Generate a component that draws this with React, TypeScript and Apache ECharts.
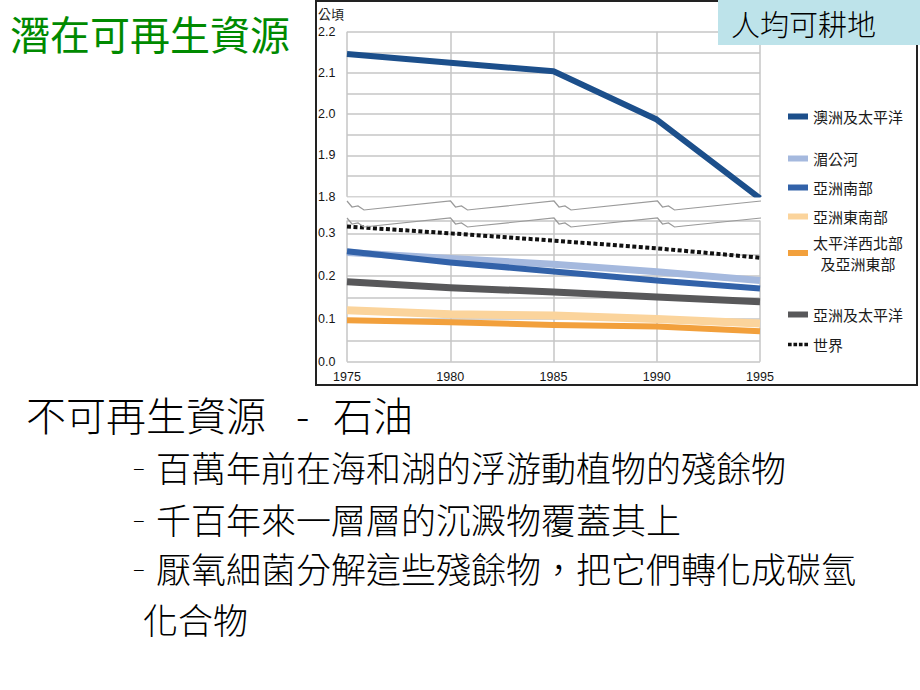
import React, { useEffect, useRef } from 'react';
import * as echarts from 'echarts';

// ---- data ----
const years = [1975, 1980, 1985, 1990, 1995];
const seriesNames = ['澳洲及太平洋', '湄公河', '亞洲南部', '亞洲東南部', '太平洋西北部及亞洲東部', '亞洲及太平洋', '世界'];
const australiaPacific = [2.146, 2.125, 2.104, 1.987, 1.796];
const mekong = [0.255, 0.241, 0.228, 0.21, 0.19];
const southAsia = [0.258, 0.232, 0.211, 0.19, 0.171];
const southeastAsia = [0.12, 0.111, 0.108, 0.1, 0.089];
const nwPacificEastAsia = [0.097, 0.092, 0.086, 0.082, 0.071];
const asiaPacific = [0.187, 0.173, 0.163, 0.151, 0.14];
const world = [0.316, 0.3, 0.283, 0.265, 0.243];
const unitLabel = '公頃';
const chartTitle = '潛在可再生資源';
const boxLabel = '人均可耕地';
const bodyHeading = ['不可再生資源', '-', '石油'];
const bullets = ['百萬年前在海和湖的浮游動植物的殘餘物', '千百年來一層層的沉澱物覆蓋其上', '厭氧細菌分解這些殘餘物，把它們轉化成碳氫'];
const bulletContinuation = '化合物';

const seriesValues = [australiaPacific, mekong, southAsia, southeastAsia, nwPacificEastAsia, asiaPacific, world];
const seriesColors = ['#1c4f8b', '#a5b9de', '#3262a9', '#fbd49c', '#f2a03c', '#58585a', '#111111'];
const seriesWidths = [6, 7, 6, 8, 6, 7, 4];
const legendCenters = [110, 152, 181, 210, 245, 308, 338];

const CJK = '"Noto Sans CJK TC", "Noto Sans CJK SC", sans-serif';

function wavePoints(y0: number, x0: number, segW: number): number[][] {
  const pts: number[][] = [];
  for (let i = 0; i < 4; i++) {
    const s = x0 + i * segW;
    pts.push([s, y0 - 4], [s + 5, y0 + 2], [s + 11, y0 + 1], [s + 17, y0 + 5], [s + 26, y0 + 4]);
  }
  pts.push([x0 + 4 * segW, y0 - 4]);
  return pts;
}

export default function App() {
  const ref = useRef<HTMLDivElement>(null);
  useEffect(() => {
    if (!ref.current) return;
    const chart = echarts.init(ref.current, undefined, { renderer: 'svg' });
    const axisLabelFmt = (v: number) => {
      const t = Math.round(v * 10);
      return Math.abs(v * 10 - t) < 1e-6 ? (t / 10).toFixed(1) : '';
    };
    const gridLine = { show: true, lineStyle: { color: '#c6c6c6', width: 1.5 } };
    const series = seriesNames.map((name, i) => ({
      name,
      type: 'line',
      xAxisIndex: i === 0 ? 0 : 1,
      yAxisIndex: i === 0 ? 0 : 1,
      data: years.map((y, j) => [y, seriesValues[i][j]]),
      symbol: 'none',
      smooth: false,
      z: 3 + i,
      itemStyle: { color: seriesColors[i] },
      lineStyle: {
        color: seriesColors[i],
        width: seriesWidths[i],
        type: name === '世界' ? [4, 2.5] : 'solid',
        join: 'round',
      },
    }));
    const legends = seriesNames.map((name, i) => ({
      data: [{ name, icon: name === '世界' ? 'path://M0 0h4v4h-4z M6 0h4v4h-4z M12 0h4v4h-4z M18 0h4v4h-4z' : 'rect' }],
      left: 783,
      top: legendCenters[i] - (name.length > 8 ? 18 : 9),
      itemWidth: 20,
      itemHeight: 6,
      itemGap: 6,
      selectedMode: false,
      formatter: name.length > 8 ? () => '太平洋西北部\n\u2002及亞洲東部' : undefined,
      textStyle: { fontFamily: CJK, fontSize: 15, color: '#1a1a1a', lineHeight: 21 },
    }));
    const wave1 = wavePoints(205, 347, 103.5);
    const wave2 = wavePoints(222, 347, 103.5);
    const body = (text: string, x: number, y: number, size: number) => ({
      type: 'text', x, y, z: 31,
      style: { text, fontFamily: CJK, fontSize: size, fontWeight: 300, fill: '#000', textVerticalAlign: 'middle', lineHeight: size },
    });
    const bulletY = [466, 518, 567];
    chart.setOption({
      animation: false,
      backgroundColor: '#ffffff',
      grid: [
        { left: 347, right: 160, top: 31.7, height: 165 },
        { left: 347, right: 160, top: 220.5, bottom: 328.3 },
      ],
      xAxis: [
        { type: 'value', gridIndex: 0, min: 1975, max: 1995, interval: 5, axisLine: { show: false }, axisTick: { show: false }, axisLabel: { show: false }, splitLine: gridLine },
        {
          type: 'value', gridIndex: 1, min: 1975, max: 1995, interval: 5,
          axisLine: { show: false }, axisTick: { show: false }, splitLine: gridLine,
          axisLabel: { margin: 9, fontSize: 12.5, color: '#151515', fontFamily: 'Liberation Sans, Arial, sans-serif', formatter: (v: number) => String(v) },
        },
      ],
      yAxis: [
        {
          type: 'value', gridIndex: 0, min: 1.8, max: 2.2, interval: 0.05,
          axisLine: { show: false }, axisTick: { show: false }, splitLine: gridLine,
          axisLabel: { align: 'left', margin: 29, fontSize: 12.5, color: '#151515', fontFamily: 'Liberation Sans, Arial, sans-serif', formatter: axisLabelFmt },
        },
        {
          type: 'value', gridIndex: 1, min: 0, max: 0.33, interval: 0.05,
          axisLine: { show: false }, axisTick: { show: false }, splitLine: gridLine,
          axisLabel: { align: 'left', margin: 29, fontSize: 12.5, color: '#151515', fontFamily: 'Liberation Sans, Arial, sans-serif', formatter: axisLabelFmt, showMaxLabel: false },
        },
      ],
      legend: legends,
      series,
      graphic: [
        { type: 'rect', shape: { x: 340, y: 197.5, width: 425, height: 22 }, style: { fill: '#ffffff' }, z: 20 },
        { type: 'polyline', shape: { points: wave1 }, style: { stroke: '#9a9a9a', lineWidth: 1.2, fill: null }, z: 21 },
        { type: 'polyline', shape: { points: wave2 }, style: { stroke: '#9a9a9a', lineWidth: 1.2, fill: null }, z: 21 },
        { type: 'polyline', shape: { points: [[718, 1], [316, 1], [316, 385], [917, 385], [917, 45]] }, style: { stroke: '#222222', lineWidth: 2, fill: null }, z: 22 },
        { type: 'text', x: 318, y: 13, style: { text: unitLabel, fontFamily: CJK, fontSize: 13, fill: '#222', textVerticalAlign: 'middle' }, z: 22 },
        { type: 'rect', shape: { x: 718, y: 0, width: 202, height: 45 }, style: { fill: '#bde3ea' }, z: 30 },
        { type: 'text', x: 731, y: 23, style: { text: boxLabel, fontFamily: CJK, fontSize: 29, fontWeight: 300, fill: '#000', textVerticalAlign: 'middle' }, z: 31 },
        { type: 'text', x: 10, y: 33, style: { text: chartTitle, fontFamily: CJK, fontSize: 40, fill: '#008a00', textVerticalAlign: 'middle' }, z: 31 },
        body(bodyHeading[0], 26, 414, 40),
        body(bodyHeading[1], 296, 414, 40),
        body(bodyHeading[2], 333, 414, 40),
        ...bullets.flatMap((b, i) => [
          body('–', 133, bulletY[i], 22),
          body(b, 156, bulletY[i], 35),
        ]),
        body(bulletContinuation, 143, 618, 35),
      ],
    });
    return () => chart.dispose();
  }, []);
  return <div ref={ref} style={{ position: 'absolute', left: 0, top: 0, width: 920, height: 690 }} />;
}
